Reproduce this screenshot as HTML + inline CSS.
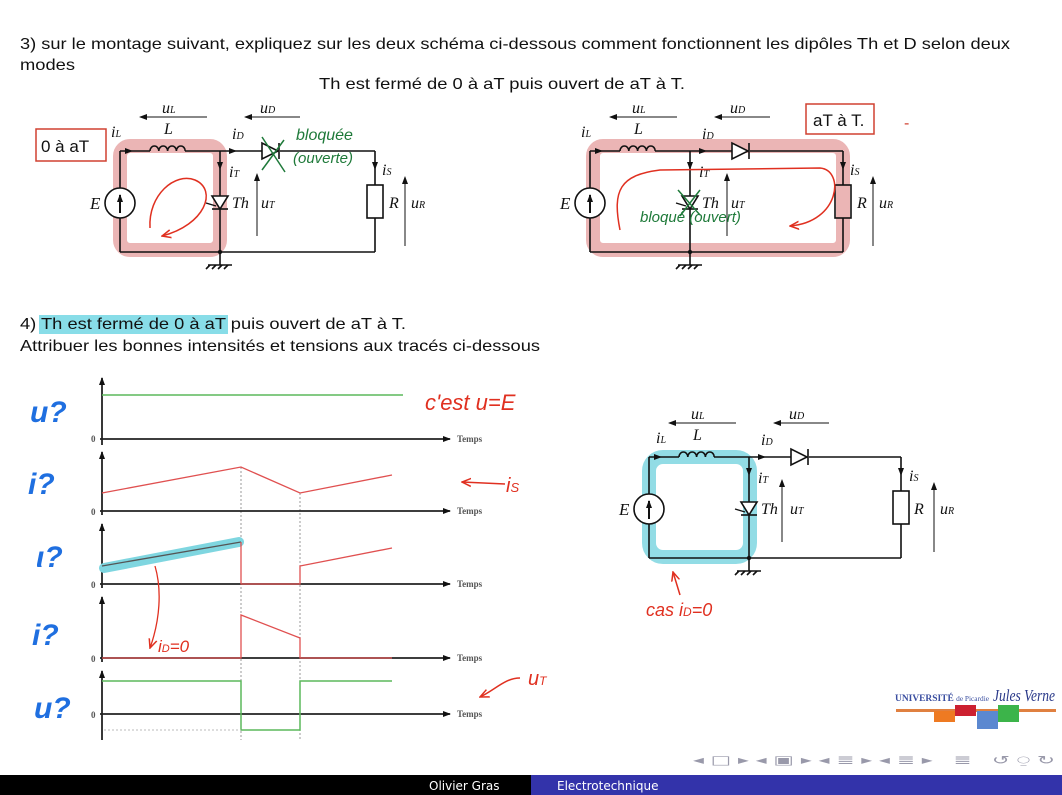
<!DOCTYPE html>
<html><head><meta charset="utf-8"><style>
html,body{margin:0;padding:0;background:#fff;width:1062px;height:795px;overflow:hidden}
svg{display:block}
.t{font-family:"Liberation Sans",sans-serif;font-size:16px;fill:#111}
.m{font-family:"Liberation Serif",serif;font-style:italic;font-size:16px;fill:#111}
.s{font-family:"Liberation Serif",serif;font-style:italic;font-size:10px;fill:#111}
.h{font-family:"Liberation Sans",sans-serif;font-style:italic}
.w{stroke:#111;stroke-width:1.6;fill:none}
</style></head><body>
<svg width="1062" height="795" viewBox="0 0 1062 795" xmlns="http://www.w3.org/2000/svg">
<defs>
<marker id="ah" markerWidth="8" markerHeight="8" refX="7" refY="4" orient="auto" markerUnits="userSpaceOnUse"><path d="M0,1 L8,4 L0,7 z" fill="#111"/></marker>
<marker id="ar" markerWidth="10" markerHeight="10" refX="9" refY="5" orient="auto" markerUnits="userSpaceOnUse"><path d="M0,1 L9,5 L0,9" fill="none" stroke="#e03020" stroke-width="1.5"/></marker>
</defs>

<text class="t" x="20" y="49" textLength="990" lengthAdjust="spacingAndGlyphs">3) sur le montage suivant, expliquez sur les deux schéma ci-dessous comment fonctionnent les dipôles Th et D selon deux</text>
<text class="t" x="20" y="70" textLength="55" lengthAdjust="spacingAndGlyphs">modes</text>
<text class="t" x="319" y="89" textLength="366" lengthAdjust="spacingAndGlyphs">Th est fermé de 0 à  aT puis ouvert de aT à T.</text>

<!-- highlights left -->
<rect x="120" y="146" width="100" height="104" rx="10" fill="none" stroke="#e8a8a8" stroke-width="14" opacity="0.85"/>
<rect x="36" y="129" width="70" height="32" fill="#fff" stroke="#d04030" stroke-width="1.5"/>
<text class="t" x="41" y="152" style="font-size:17px">0 à  aT</text>

<!-- highlights right -->
<rect x="593" y="146" width="250" height="104" rx="10" fill="none" stroke="#e8a8a8" stroke-width="14" opacity="0.85"/>
<rect x="806" y="104" width="68" height="30" fill="#fff" stroke="#d04030" stroke-width="1.5"/>
<text class="t" x="813" y="126" style="font-size:17px">aT à T.</text>
<text class="t" x="904" y="128" style="fill:#d04030">-</text>

<!-- bottom highlight -->
<rect x="649" y="457" width="101" height="100" rx="14" fill="none" stroke="#7fd6e0" stroke-width="14" opacity="0.85"/>

<!-- circuit 1 -->
<g transform="translate(120,151)">
<g class="w">
<line x1="0" y1="0" x2="0" y2="101"/>
<line x1="0" y1="0" x2="30" y2="0"/>
<path d="M30,0 a4.4,5 0 0 1 8.8,0 a4.4,5 0 0 1 8.8,0 a4.4,5 0 0 1 8.8,0 a4.4,5 0 0 1 8.8,0"/>
<line x1="65" y1="0" x2="142" y2="0"/><line x1="160" y1="0" x2="255" y2="0"/>
<line x1="255" y1="0" x2="255" y2="34"/><rect x="247" y="34" width="16" height="33"/><line x1="255" y1="67" x2="255" y2="101"/>
<line x1="0" y1="101" x2="255" y2="101"/>
<line x1="100" y1="0" x2="100" y2="101"/>
<line x1="100" y1="101" x2="100" y2="114"/><line x1="88" y1="114" x2="112" y2="114"/>
<path d="M90,114 l-4,4 M96,114 l-4,4 M102,114 l-4,4 M108,114 l-4,4"/>
<circle cx="0" cy="52" r="15" fill="#fff"/>
</g>
<line x1="0" y1="62" x2="0" y2="44" stroke="#111" stroke-width="2" marker-end="url(#ah)"/>
<path d="M142,-8 L142,8 L158,0 z" fill="#fff" stroke="#111" stroke-width="1.6"/><line x1="159" y1="-8" x2="159" y2="8" stroke="#111" stroke-width="1.6"/>
<path d="M92,45 L108,45 L100,58 z" fill="#fff" stroke="#111" stroke-width="1.6"/><line x1="92" y1="58" x2="108" y2="58" stroke="#111" stroke-width="1.6"/><line x1="86" y1="52" x2="96" y2="55" stroke="#111" stroke-width="1.4"/>
<circle cx="100" cy="101" r="2.2" fill="#111"/>
<line x1="2" y1="0" x2="12" y2="0" stroke="#111" marker-end="url(#ah)"/>
<line x1="106" y1="0" x2="116" y2="0" stroke="#111" marker-end="url(#ah)"/>
<line x1="100" y1="8" x2="100" y2="18" stroke="#111" marker-end="url(#ah)"/>
<line x1="255" y1="8" x2="255" y2="18" stroke="#111" marker-end="url(#ah)"/>
<line x1="87" y1="-34" x2="20" y2="-34" stroke="#111" marker-end="url(#ah)"/>
<line x1="180" y1="-34" x2="125" y2="-34" stroke="#111" marker-end="url(#ah)"/>
<line x1="137" y1="85" x2="137" y2="23" stroke="#111" marker-end="url(#ah)"/>
<line x1="285" y1="95" x2="285" y2="26" stroke="#111" marker-end="url(#ah)"/>
<text class="m" x="42" y="-38">u<tspan class="s">L</tspan></text>
<text class="m" x="140" y="-38">u<tspan class="s">D</tspan></text>
<text class="m" x="-9" y="-14">i<tspan class="s">L</tspan></text>
<text class="m" x="44" y="-17">L</text>
<text class="m" x="112" y="-12">i<tspan class="s">D</tspan></text>
<text class="m" x="109" y="26">i<tspan class="s">T</tspan></text>
<text class="m" x="112" y="57">Th</text>
<text class="m" x="141" y="57">u<tspan class="s">T</tspan></text>
<text class="m" x="262" y="24">i<tspan class="s">S</tspan></text>
<text class="m" x="269" y="57">R</text>
<text class="m" x="291" y="57">u<tspan class="s">R</tspan></text>
<text class="m" x="-30" y="58" style="font-size:17px">E</text>
</g>

<!-- circuit 2 -->
<g transform="translate(590,151)">
<g class="w">
<line x1="0" y1="0" x2="0" y2="101"/>
<line x1="0" y1="0" x2="30" y2="0"/>
<path d="M30,0 a4.4,5 0 0 1 8.8,0 a4.4,5 0 0 1 8.8,0 a4.4,5 0 0 1 8.8,0 a4.4,5 0 0 1 8.8,0"/>
<line x1="65" y1="0" x2="142" y2="0"/><line x1="160" y1="0" x2="253" y2="0"/>
<line x1="253" y1="0" x2="253" y2="34"/><rect x="245" y="34" width="16" height="33"/><line x1="253" y1="67" x2="253" y2="101"/>
<line x1="0" y1="101" x2="253" y2="101"/>
<line x1="100" y1="0" x2="100" y2="101"/>
<line x1="100" y1="101" x2="100" y2="114"/><line x1="88" y1="114" x2="112" y2="114"/>
<path d="M90,114 l-4,4 M96,114 l-4,4 M102,114 l-4,4 M108,114 l-4,4"/>
<circle cx="0" cy="52" r="15" fill="#fff"/>
</g>
<line x1="0" y1="62" x2="0" y2="44" stroke="#111" stroke-width="2" marker-end="url(#ah)"/>
<path d="M142,-8 L142,8 L158,0 z" fill="#fff" stroke="#111" stroke-width="1.6"/><line x1="159" y1="-8" x2="159" y2="8" stroke="#111" stroke-width="1.6"/>
<path d="M92,45 L108,45 L100,58 z" fill="#fff" stroke="#111" stroke-width="1.6"/><line x1="92" y1="58" x2="108" y2="58" stroke="#111" stroke-width="1.6"/><line x1="86" y1="52" x2="96" y2="55" stroke="#111" stroke-width="1.4"/>
<circle cx="100" cy="101" r="2.2" fill="#111"/>
<line x1="2" y1="0" x2="12" y2="0" stroke="#111" marker-end="url(#ah)"/>
<line x1="106" y1="0" x2="116" y2="0" stroke="#111" marker-end="url(#ah)"/>
<line x1="100" y1="8" x2="100" y2="18" stroke="#111" marker-end="url(#ah)"/>
<line x1="253" y1="8" x2="253" y2="18" stroke="#111" marker-end="url(#ah)"/>
<line x1="87" y1="-34" x2="20" y2="-34" stroke="#111" marker-end="url(#ah)"/>
<line x1="180" y1="-34" x2="125" y2="-34" stroke="#111" marker-end="url(#ah)"/>
<line x1="137" y1="85" x2="137" y2="23" stroke="#111" marker-end="url(#ah)"/>
<line x1="283" y1="95" x2="283" y2="26" stroke="#111" marker-end="url(#ah)"/>
<text class="m" x="42" y="-38">u<tspan class="s">L</tspan></text>
<text class="m" x="140" y="-38">u<tspan class="s">D</tspan></text>
<text class="m" x="-9" y="-14">i<tspan class="s">L</tspan></text>
<text class="m" x="44" y="-17">L</text>
<text class="m" x="112" y="-12">i<tspan class="s">D</tspan></text>
<text class="m" x="109" y="26">i<tspan class="s">T</tspan></text>
<text class="m" x="112" y="57">Th</text>
<text class="m" x="141" y="57">u<tspan class="s">T</tspan></text>
<text class="m" x="260" y="24">i<tspan class="s">S</tspan></text>
<text class="m" x="267" y="57">R</text>
<text class="m" x="289" y="57">u<tspan class="s">R</tspan></text>
<text class="m" x="-30" y="58" style="font-size:17px">E</text>
</g>

<!-- circuit 3 -->
<g transform="translate(649,457)">
<g class="w">
<line x1="0" y1="0" x2="0" y2="101"/>
<line x1="0" y1="0" x2="30" y2="0"/>
<path d="M30,0 a4.4,5 0 0 1 8.8,0 a4.4,5 0 0 1 8.8,0 a4.4,5 0 0 1 8.8,0 a4.4,5 0 0 1 8.8,0"/>
<line x1="65" y1="0" x2="142" y2="0"/><line x1="160" y1="0" x2="252" y2="0"/>
<line x1="252" y1="0" x2="252" y2="34"/><rect x="244" y="34" width="16" height="33"/><line x1="252" y1="67" x2="252" y2="101"/>
<line x1="0" y1="101" x2="252" y2="101"/>
<line x1="100" y1="0" x2="100" y2="101"/>
<line x1="100" y1="101" x2="100" y2="114"/><line x1="88" y1="114" x2="112" y2="114"/>
<path d="M90,114 l-4,4 M96,114 l-4,4 M102,114 l-4,4 M108,114 l-4,4"/>
<circle cx="0" cy="52" r="15" fill="#fff"/>
</g>
<line x1="0" y1="62" x2="0" y2="44" stroke="#111" stroke-width="2" marker-end="url(#ah)"/>
<path d="M142,-8 L142,8 L158,0 z" fill="#fff" stroke="#111" stroke-width="1.6"/><line x1="159" y1="-8" x2="159" y2="8" stroke="#111" stroke-width="1.6"/>
<path d="M92,45 L108,45 L100,58 z" fill="#fff" stroke="#111" stroke-width="1.6"/><line x1="92" y1="58" x2="108" y2="58" stroke="#111" stroke-width="1.6"/><line x1="86" y1="52" x2="96" y2="55" stroke="#111" stroke-width="1.4"/>
<circle cx="100" cy="101" r="2.2" fill="#111"/>
<line x1="2" y1="0" x2="12" y2="0" stroke="#111" marker-end="url(#ah)"/>
<line x1="106" y1="0" x2="116" y2="0" stroke="#111" marker-end="url(#ah)"/>
<line x1="100" y1="8" x2="100" y2="18" stroke="#111" marker-end="url(#ah)"/>
<line x1="252" y1="8" x2="252" y2="18" stroke="#111" marker-end="url(#ah)"/>
<line x1="87" y1="-34" x2="20" y2="-34" stroke="#111" marker-end="url(#ah)"/>
<line x1="180" y1="-34" x2="125" y2="-34" stroke="#111" marker-end="url(#ah)"/>
<line x1="133" y1="85" x2="133" y2="23" stroke="#111" marker-end="url(#ah)"/>
<line x1="285" y1="95" x2="285" y2="26" stroke="#111" marker-end="url(#ah)"/>
<text class="m" x="42" y="-38">u<tspan class="s">L</tspan></text>
<text class="m" x="140" y="-38">u<tspan class="s">D</tspan></text>
<text class="m" x="7" y="-14">i<tspan class="s">L</tspan></text>
<text class="m" x="44" y="-17">L</text>
<text class="m" x="112" y="-12">i<tspan class="s">D</tspan></text>
<text class="m" x="109" y="26">i<tspan class="s">T</tspan></text>
<text class="m" x="112" y="57">Th</text>
<text class="m" x="141" y="57">u<tspan class="s">T</tspan></text>
<text class="m" x="260" y="24">i<tspan class="s">S</tspan></text>
<text class="m" x="265" y="57">R</text>
<text class="m" x="291" y="57">u<tspan class="s">R</tspan></text>
<text class="m" x="-30" y="58" style="font-size:17px">E</text>
</g>

<!-- handwritten annotations -->
<path d="M150,228 C148,195 175,172 195,180 C218,190 205,225 162,236" fill="none" stroke="#e03020" stroke-width="1.5" marker-end="url(#ar)"/>
<path d="M262,137 L285,172 M284,140 L262,170" stroke="#1f7a3a" stroke-width="1.5"/>
<text class="h" x="296" y="140" style="fill:#1f7a3a;font-size:16px">bloquée</text>
<text class="h" x="293" y="163" style="fill:#1f7a3a;font-size:15px">(ouverte)</text>
<path d="M620,230 C612,190 620,175 660,170 L820,168 C845,170 840,222 790,226" fill="none" stroke="#e03020" stroke-width="1.5" marker-end="url(#ar)"/>
<path d="M678,190 L700,215 M700,190 L680,216" stroke="#1f7a3a" stroke-width="1.5"/>
<text class="h" x="640" y="222" style="fill:#1f7a3a;font-size:15px">bloqué (ouvert)</text>
<line x1="680" y1="595" x2="673" y2="572" stroke="#e03020" stroke-width="1.5" marker-end="url(#ar)"/>
<text class="h" x="646" y="616" style="fill:#e03020;font-size:18px">cas i<tspan style="font-size:12px">D</tspan>=0</text>

<!-- part 4 -->
<rect x="39" y="315" width="189" height="19" fill="#88dde8"/>
<text class="t" x="20" y="329" textLength="386" lengthAdjust="spacingAndGlyphs">4) Th est fermé de 0 à  aT puis ouvert de aT à T.</text>
<text class="t" x="20" y="351" textLength="520" lengthAdjust="spacingAndGlyphs">Attribuer les bonnes intensités et tensions aux tracés ci-dessous</text>

<!-- graphs -->
<g stroke="#999" stroke-width="1" stroke-dasharray="2,2">
<line x1="241" y1="467" x2="241" y2="740"/><line x1="300" y1="493" x2="300" y2="740"/>
</g>
<g stroke="#222" stroke-width="1.8">
<line x1="102" y1="445" x2="102" y2="378" marker-end="url(#ah)"/><line x1="100" y1="439" x2="450" y2="439" marker-end="url(#ah)"/>
<line x1="102" y1="515" x2="102" y2="452" marker-end="url(#ah)"/><line x1="100" y1="511" x2="450" y2="511" marker-end="url(#ah)"/>
<line x1="102" y1="588" x2="102" y2="524" marker-end="url(#ah)"/><line x1="100" y1="584" x2="450" y2="584" marker-end="url(#ah)"/>
<line x1="102" y1="662" x2="102" y2="597" marker-end="url(#ah)"/><line x1="100" y1="658" x2="450" y2="658" marker-end="url(#ah)"/>
<line x1="102" y1="740" x2="102" y2="671" marker-end="url(#ah)"/><line x1="100" y1="714" x2="450" y2="714" marker-end="url(#ah)"/>
</g>
<g font-family="Liberation Serif,serif" font-size="9" font-weight="bold" fill="#555">
<text x="457" y="442">Temps</text><text x="457" y="514">Temps</text><text x="457" y="587">Temps</text><text x="457" y="661">Temps</text><text x="457" y="717">Temps</text>
<text x="91" y="442">0</text><text x="91" y="515">0</text><text x="91" y="588">0</text><text x="91" y="662">0</text><text x="91" y="718">0</text>
</g>
<line x1="102" y1="395" x2="403" y2="395" stroke="#5cb85c" stroke-width="1.5"/>
<polyline points="102,493 241,467 300,493 392,475" fill="none" stroke="#e05050" stroke-width="1.3"/>
<line x1="104" y1="568" x2="239" y2="542" stroke="#7fd6e0" stroke-width="10" stroke-linecap="round"/>
<polyline points="102,566 241,542" fill="none" stroke="#555" stroke-width="1.3"/>
<polyline points="241,542 241,584 300,584 300,566 392,548" fill="none" stroke="#e05050" stroke-width="1.3"/>
<polyline points="102,658 241,658 241,615 300,638 300,658 392,658" fill="none" stroke="#e05050" stroke-width="1.3"/>
<polyline points="102,681 241,681 241,730 300,730 300,681 392,681" fill="none" stroke="#5cb85c" stroke-width="1.5"/>
<line x1="104" y1="730" x2="241" y2="730" stroke="#bbb" stroke-dasharray="2,2"/>

<g class="h" style="fill:#1f6fe0;font-weight:bold;font-size:30px">
<text x="30" y="422">u?</text><text x="28" y="494">i?</text><text x="36" y="567">ι?</text><text x="32" y="645">i?</text><text x="34" y="718">u?</text>
</g>
<text class="h" x="425" y="410" style="fill:#e03020;font-size:22px">c'est u=E</text>
<line x1="505" y1="484" x2="462" y2="482" stroke="#e03020" stroke-width="1.5" marker-end="url(#ar)"/>
<text class="h" x="506" y="492" style="fill:#e03020;font-size:20px">i<tspan style="font-size:13px">S</tspan></text>
<path d="M520,678 C505,678 495,690 480,697" fill="none" stroke="#e03020" stroke-width="1.5" marker-end="url(#ar)"/>
<text class="h" x="528" y="685" style="fill:#e03020;font-size:20px">u<tspan style="font-size:12px">T</tspan></text>
<path d="M155,566 C162,590 160,620 150,648" fill="none" stroke="#e03020" stroke-width="1.3" marker-end="url(#ar)"/>
<text class="h" x="158" y="652" style="fill:#e03020;font-size:17px">i<tspan style="font-size:11px">D</tspan>=0</text>

<!-- logo -->
<text x="895" y="701" font-family="Liberation Serif,serif" font-size="9" font-weight="bold" fill="#3a4ea0" textLength="94" lengthAdjust="spacingAndGlyphs">UNIVERSITÉ <tspan font-weight="normal" font-size="7">de Picardie</tspan></text>
<text x="993" y="701" font-family="Liberation Serif,serif" font-style="italic" font-size="17" fill="#2b3a8a" textLength="62" lengthAdjust="spacingAndGlyphs">Jules Verne</text>
<rect x="896" y="709" width="160" height="3" fill="#e08040"/>
<rect x="934" y="711" width="21" height="11" fill="#ee7a22"/>
<rect x="955" y="705" width="21" height="11" fill="#cc2030"/>
<rect x="977" y="711" width="21" height="18" fill="#5b88d0"/>
<rect x="998" y="705" width="21" height="17" fill="#3cb44a"/>
<text x="693" y="764" font-family="DejaVu Sans,sans-serif" font-size="12" fill="#99a" textLength="362" lengthAdjust="spacingAndGlyphs">◂ □ ▸ ◂ ▣ ▸ ◂ ≣ ▸ ◂ ≣ ▸ &#160; ≣ &#160; ↺ ⍜ ↻</text>

<!-- footer -->
<rect x="0" y="775" width="531" height="20" fill="#000"/>
<rect x="531" y="775" width="531" height="20" fill="#3333aa"/>
<text x="429" y="790" font-family="DejaVu Sans,sans-serif" font-size="12" fill="#fff">Olivier Gras</text>
<text x="557" y="790" font-family="DejaVu Sans,sans-serif" font-size="12" fill="#fff">Electrotechnique</text>
</svg>
</body></html>
